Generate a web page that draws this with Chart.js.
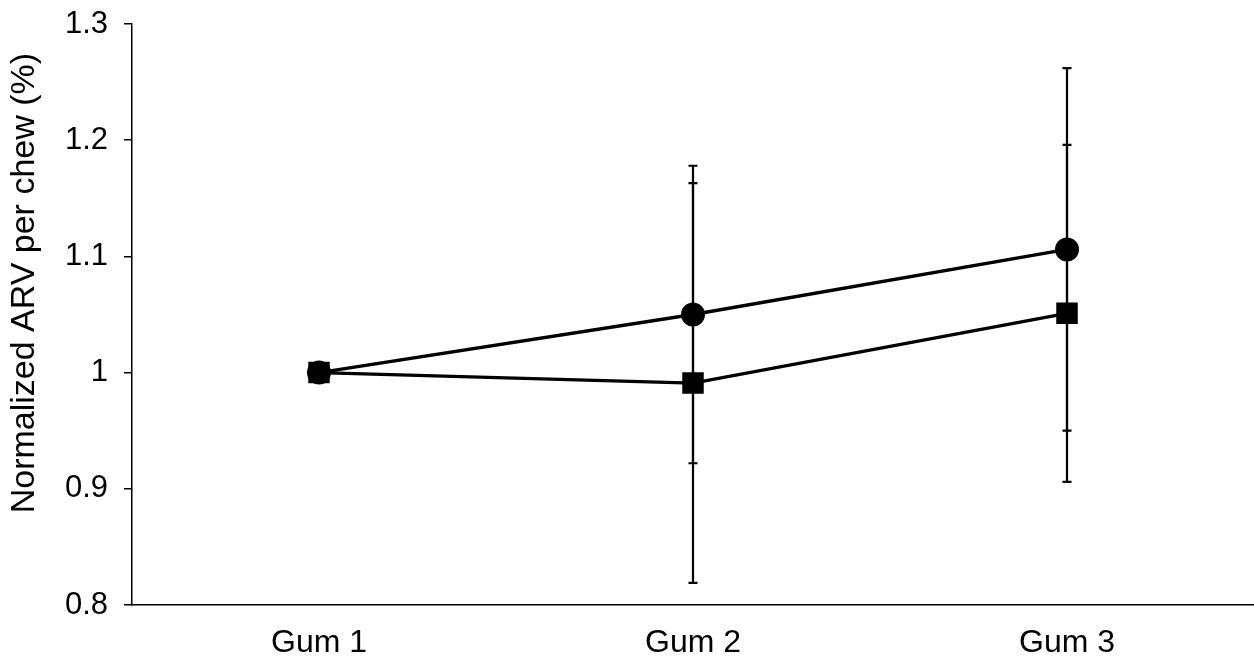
<!DOCTYPE html>
<html>
<head>
<meta charset="utf-8">
<script src="https://cdn.jsdelivr.net/npm/chart.js@4/dist/chart.umd.min.js"></script>
<style>
  html, body { margin: 0; padding: 0; background: #fff; overflow: hidden; }
  #wrap { width: 1254px; height: 666px; }
  canvas { display: block; }
</style>
</head>
<body>
<div id="wrap"><canvas id="c" width="1254" height="666"></canvas></div>
<script>
// Categories and series
const categories = ['Gum 1', 'Gum 2', 'Gum 3'];
const circleMean = [1.000, 1.050, 1.106];
const circleSD   = [0, 0.128, 0.156];
const squareMean = [1.000, 0.991, 1.051];
const squareSD   = [0, 0.172, 0.145];
const yTickLabels = ['0.8', '0.9', '1', '1.1', '1.2', '1.3'];
const yMin = 0.8, yMax = 1.3, yStep = 0.1;
const yTitle = 'Normalized ARV per chew (%)';

const FONT = '"Liberation Sans", Arial, sans-serif';

// Vertical error bars with short caps, drawn underneath lines and markers
const errorBars = {
  id: 'errorBars',
  beforeDatasetsDraw(chart) {
    const { ctx, scales: { x, y } } = chart;
    ctx.save();
    ctx.strokeStyle = '#000';
    ctx.lineWidth = 2.2;
    chart.data.datasets.forEach(ds => {
      const sd = ds.errors || [];
      ds.data.forEach((v, i) => {
        const e = sd[i];
        if (!e) return;
        const px = x.getPixelForValue(i);
        const top = y.getPixelForValue(v + e);
        const bot = y.getPixelForValue(v - e);
        ctx.beginPath();
        ctx.moveTo(px, top); ctx.lineTo(px, bot);
        ctx.moveTo(px - 4.5, top); ctx.lineTo(px + 4.5, top);
        ctx.moveTo(px - 4.5, bot); ctx.lineTo(px + 4.5, bot);
        ctx.stroke();
      });
    });
    ctx.restore();
  }
};

// Rotated value-axis title, sitting a little above the middle of the axis
const axisTitle = {
  id: 'axisTitle',
  afterDraw(chart) {
    const { ctx, chartArea: a } = chart;
    ctx.save();
    ctx.translate(25, a.top + a.height * 0.446);
    ctx.rotate(-Math.PI / 2);
    ctx.font = '34px ' + FONT;
    ctx.fillStyle = '#000';
    ctx.textAlign = 'center';
    ctx.textBaseline = 'middle';
    ctx.fillText(yTitle, 0, 0);
    ctx.restore();
  }
};

new Chart(document.getElementById('c'), {
  type: 'line',
  data: {
    labels: categories,
    datasets: [
      {
        data: squareMean,
        errors: squareSD,
        borderColor: '#000',
        backgroundColor: '#000',
        borderWidth: 3.3,
        pointStyle: 'rect',
        pointRadius: 15.2,
        pointBorderWidth: 0,
        pointHoverRadius: 15.2,
        tension: 0
      },
      {
        data: circleMean,
        errors: circleSD,
        borderColor: '#000',
        backgroundColor: '#000',
        borderWidth: 3.3,
        pointStyle: 'circle',
        pointRadius: 12,
        pointBorderWidth: 0,
        pointHoverRadius: 12,
        tension: 0
      }
    ]
  },
  options: {
    responsive: false,
    animation: false,
    devicePixelRatio: 1,
    layout: { autoPadding: false, padding: { top: 24, right: 0, left: 0, bottom: 0 } },
    plugins: {
      legend: { display: false },
      tooltip: { enabled: false }
    },
    scales: {
      x: {
        type: 'category',
        offset: true,
        grid: { display: false },
        border: { display: true, color: '#000', width: 1.5 },
        ticks: {
          color: '#000',
          font: { family: FONT, size: 32 },
          padding: 11
        },
        afterFit(s) { s.height = 61; s.paddingLeft = 0; s.paddingRight = 0; }
      },
      y: {
        min: yMin,
        max: yMax,
        grid: {
          drawOnChartArea: false,
          drawTicks: true,
          tickLength: 8,
          color: '#000',
          lineWidth: 1.5
        },
        border: { display: true, color: '#000', width: 1.5 },
        ticks: {
          stepSize: yStep,
          color: '#000',
          font: { family: FONT, size: 31 },
          padding: 16,
          callback: (v, i) => yTickLabels[i]
        },
        title: { display: false },
        afterFit(s) { s.width = 132; s.paddingTop = 0; s.paddingBottom = 0; }
      }
    }
  },
  plugins: [errorBars, axisTitle]
});
</script>
</body>
</html>
